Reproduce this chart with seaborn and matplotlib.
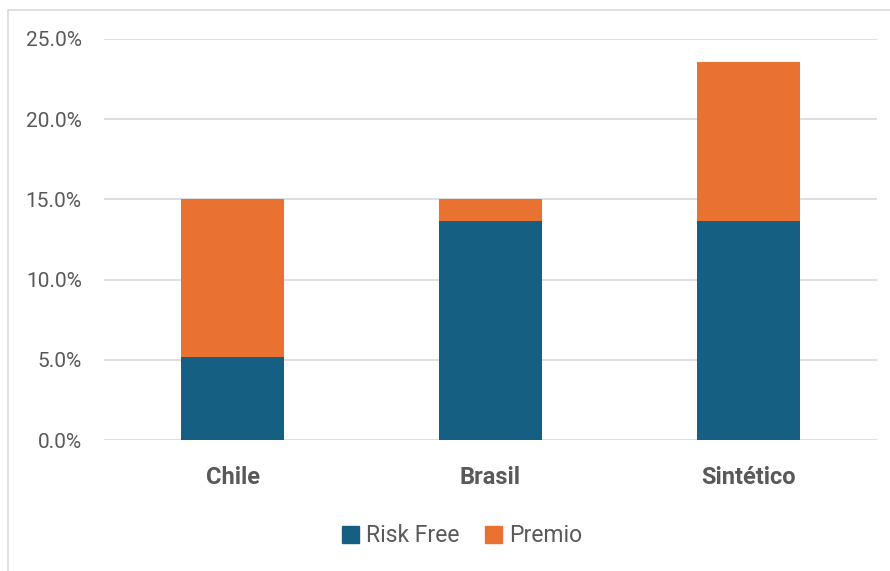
import matplotlib
matplotlib.use("Agg")
import matplotlib.pyplot as plt
import matplotlib.patches as mpatches
from matplotlib.ticker import FuncFormatter, MultipleLocator
import seaborn as sns
import pandas as pd

categories = ["Chile", "Brasil", "Sintético"]
risk_free = [5.2, 13.65, 13.65]
premio = [9.8, 1.35, 9.9]
series_names = ["Risk Free", "Premio"]

BLUE = "#156082"
ORANGE = "#E97132"
TEXT = "#595959"
GRID = "#D9D9D9"

sns.set_theme(style="white")
plt.rcParams["font.family"] = ["Roboto", "DejaVu Sans"]

df = pd.DataFrame({"cat": categories, "rf": risk_free, "pr": premio})
df["total"] = df["rf"] + df["pr"]

fig = plt.figure(figsize=(8.9, 5.71), dpi=100)
ax = fig.add_axes([104 / 890, 1 - 440 / 571, 773 / 890, 401 / 571])

sns.barplot(data=df, x="cat", y="total", color=ORANGE, width=0.40,
            saturation=1, ax=ax, zorder=3, linewidth=0)
sns.barplot(data=df, x="cat", y="rf", color=BLUE, width=0.40,
            saturation=1, ax=ax, zorder=4, linewidth=0)

ax.set_xlim(-0.5, 2.5)
ax.set_ylim(0, 25)
ax.yaxis.set_major_locator(MultipleLocator(5))
ax.yaxis.set_major_formatter(FuncFormatter(lambda v, p: f"{v:.1f}%"))
ax.grid(axis="y", color=GRID, linewidth=1.2, zorder=0)
ax.set_axisbelow(True)
for s in ax.spines.values():
    s.set_visible(False)
ax.set_xlabel("")
ax.set_ylabel("")
ax.tick_params(axis="y", length=0, pad=16, labelsize=15, labelcolor=TEXT)
ax.tick_params(axis="x", length=0, pad=19, labelsize=17, labelcolor=TEXT)
for lab in ax.get_xticklabels():
    lab.set_fontweight("bold")

handles = [mpatches.Patch(color=BLUE, label=series_names[0]),
           mpatches.Patch(color=ORANGE, label=series_names[1])]
fig.legend(handles=handles, loc="center", bbox_to_anchor=(462 / 890, 1 - 536 / 571),
           ncol=2, frameon=False, fontsize=16.5, labelcolor=TEXT,
           handlelength=0.75, handleheight=0.75, handletextpad=0.3, columnspacing=1.1)

border = mpatches.Rectangle((8 / 890, -0.05), 1.0, 1 - 10 / 571 + 0.05,
                            transform=fig.transFigure, fill=False,
                            edgecolor=GRID, linewidth=1.2)
fig.patches.append(border)

fig.savefig("out.png", dpi=100)
